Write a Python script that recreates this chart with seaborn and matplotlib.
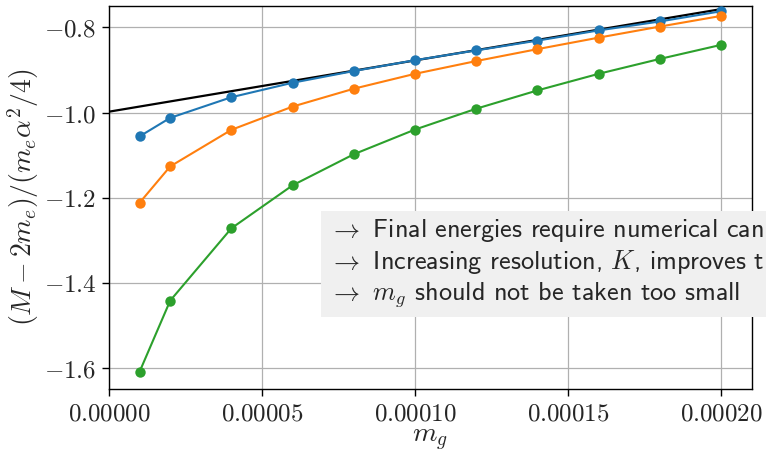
import matplotlib
matplotlib.use("Agg")
import matplotlib.pyplot as plt
import seaborn as sns
import pandas as pd
import numpy as np
from matplotlib.ticker import FuncFormatter

# ---- data ----
m_g = [1e-5, 2e-5, 4e-5, 6e-5, 8e-5, 1e-4, 1.2e-4, 1.4e-4, 1.6e-4, 1.8e-4, 2e-4]
series_a = [-1.056, -1.0125, -0.964, -0.930, -0.9025, -0.877, -0.854, -0.831, -0.807, -0.786, -0.762]
series_b = [-1.212, -1.1266, -1.0406, -0.986, -0.944, -0.909, -0.879, -0.851, -0.824, -0.798, -0.773]
series_c = [-1.609, -1.442, -1.272, -1.171, -1.098, -1.040, -0.991, -0.948, -0.909, -0.874, -0.841]
fit_x = [0.0, 2e-4]
fit_y = [-0.998, -0.757]
series_names = ["A", "B", "C"]
xticks = [0.0, 5e-5, 1e-4, 1.5e-4, 2e-4]
yticks = [-1.6, -1.4, -1.2, -1.0, -0.8]
notes = [r"$\rightarrow$ Final energies require numerical can",
         r"$\rightarrow$ Increasing resolution, $K$, improves t",
         r"$\rightarrow$ $m_g$ should not be taken too small"]

df = pd.DataFrame({
    "x": m_g * 3,
    "y": series_a + series_b + series_c,
    "s": [series_names[0]] * len(m_g) + [series_names[1]] * len(m_g) + [series_names[2]] * len(m_g),
})

sns.set_style("whitegrid")
plt.rcParams["mathtext.fontset"] = "cm"
plt.rcParams["axes.unicode_minus"] = True

fig = plt.figure(figsize=(7.66, 4.54), dpi=100)
ax = fig.add_axes([0.1423, 0.1438, 0.9813 - 0.1423, 0.9874 - 0.1438])

ax.plot(fit_x, fit_y, color="black", lw=1.6, zorder=2)
sns.lineplot(data=df, x="x", y="y", hue="s", palette=["#1f77b4", "#ff7f0e", "#2ca02c"],
             marker="o", markersize=7.5, markeredgewidth=0, lw=1.5, legend=False,
             ax=ax, zorder=3)

ax.set_xlim(0, 0.00021)
ax.set_ylim(-1.649, -0.749)
ax.set_xticks(xticks)
ax.set_yticks(yticks)
ax.xaxis.set_major_formatter(FuncFormatter(lambda v, p: f"${v:.5f}$"))
ax.yaxis.set_major_formatter(FuncFormatter(lambda v, p: f"${v:.1f}$"))
ax.tick_params(labelsize=18, length=5, width=1, color="black", direction="out",
               bottom=True, left=True, pad=4)
ax.set_xlabel(r"$m_g$", fontsize=20, labelpad=0)
ax.set_ylabel(r"$(M-2m_e)/(m_e\alpha^2/4)$", fontsize=20, labelpad=2)

ax.grid(True, color="#b0b0b0", lw=0.9)
for sp in ax.spines.values():
    sp.set_color("black")
    sp.set_linewidth(1.0)

fig.text(329 / 766, 1 - 263 / 454, "\n".join(notes), fontsize=18.8, family="cmss10",
         ha="left", va="center", linespacing=1.22,
         bbox=dict(boxstyle="square,pad=0.3", fc="#f0f0f0", ec="none"), zorder=10)

fig.savefig("out.png", dpi=100)
